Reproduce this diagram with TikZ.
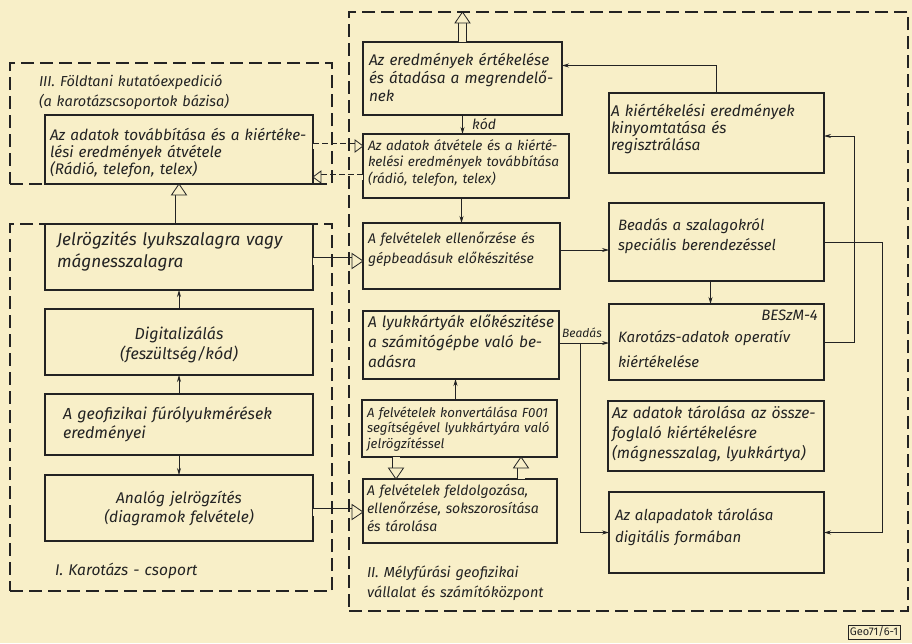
\documentclass[tikz,border=0pt]{standalone}
\usepackage{fontspec}
\setmainfont{Fira Sans}
\usetikzlibrary{arrows.meta,calc}
\definecolor{paper}{RGB}{248,239,200}
\definecolor{ink}{RGB}{35,35,35}
\newcommand\fs[2]{\fontsize{#1}{#2}\selectfont\itshape}
\tikzset{
 box/.style={draw=ink, line width=1.1pt, inner sep=0pt, outer sep=0pt, anchor=north west},
 frame/.style={draw=ink, line width=1.1pt, dash pattern=on 13pt off 6pt, inner sep=0pt, outer sep=0pt, anchor=north west},
 txt/.style={inner sep=0pt, outer sep=0pt, anchor=base west, align=left, text width=400pt, text=ink},
 ctxt/.style={inner sep=0pt, outer sep=0pt, anchor=base west, align=center, text width=268pt, text=ink},
 arr/.style={draw=ink, line width=0.8pt, -{Stealth[length=7pt,width=4pt]}},
 shaft/.style={draw=ink, line width=0.8pt, double=paper, double distance=7pt},
 dshaft/.style={draw=ink, line width=0.7pt, double=paper, double distance=5pt, dash pattern=on 6pt off 3pt},
 hhead/.style={draw=ink, line width=0.8pt, fill=paper, line join=miter},
}
\newcommand\mkbox[5]{\node[box, minimum width={(#4-#2)*1pt}, minimum height={(#5-#3)*1pt}] (#1) at (#2,#3) {};}
\newcommand\mkframe[5]{\node[frame, minimum width={(#4-#2)*1pt}, minimum height={(#5-#3)*1pt}] (#1) at (#2,#3) {};}
\newcommand\harrow[2]{%
  \draw[shaft, shorten >=10pt] (#1) -- (#2);
  \coordinate (hb) at ($(#2)!11pt!(#1)$);
  \draw[hhead] (#2) -- ($(hb)!7.5pt!90:(#2)$) -- ($(hb)!7.5pt!-90:(#2)$) -- cycle;}
\newcommand\dharrow[2]{%
  \draw[dshaft, shorten >=7pt] (#1) -- (#2);
  \coordinate (hb) at ($(#2)!8pt!(#1)$);
  \draw[hhead] (#2) -- ($(hb)!6pt!90:(#2)$) -- ($(hb)!6pt!-90:(#2)$) -- cycle;}
\begin{document}
\begin{tikzpicture}[x=1pt,y=-1pt]
\useasboundingbox (0,0) rectangle (912,643);
\fill[paper] (0,0) rectangle (912,643);

% boxes
\mkbox{A1}{45}{115}{313}{184}
\mkbox{A2}{45}{224}{313}{290}
\mkbox{A3}{45}{309}{313}{375}
\mkbox{A4}{45}{394}{313}{455}
\mkbox{A5}{45}{475}{313}{541}
\mkbox{B1}{363}{42}{562}{115}
\mkbox{B2}{363}{134}{569}{198}
\mkbox{B3}{363}{223}{560}{289}
\mkbox{B4}{363}{311}{559}{379}
\mkbox{B5}{362}{400}{557}{457}
\mkbox{B6}{363}{479}{557}{543}
\mkbox{C1}{609}{93}{824}{173}
\mkbox{C2}{609}{203}{824}{281}
\mkbox{C3}{609}{304}{824}{380}
\mkbox{C4}{608}{401}{824}{471}
\mkbox{C5}{609}{492}{824}{573}

% texts
\node[txt, font=\fs{14.5}{20}] (tIII) at (39,86) {III. Földtani kutatóexpedició\\(a karotázscsoportok bázisa)};
\node[txt, font=\fs{15.3}{17}] (tA1) at (50,140) {Az adatok továbbítása és a kiértéke-\\lési eredmények átvétele\\(Rádió, telefon, telex)};
\node[txt, font=\fs{17.2}{22}] (tA2) at (57,245) {Jelrögzités lyukszalagra vagy\\mágnesszalagra};
\node[ctxt, font=\fs{16}{20}] (tA3) at (45,339) {Digitalizálás\\(feszültség/kód)};
\node[txt, font=\fs{16}{19}] (tA4) at (63,419) {A geofizikai fúrólyukmérések\\eredményei};
\node[ctxt, font=\fs{15.5}{19}] (tA5) at (45,503) {Analóg jelrögzítés\\(diagramok felvétele)};
\node[txt, font=\fs{15.5}{19}] (tI) at (55,575) {I. Karotázs - csoport};

\node[txt, font=\fs{15.4}{18}] (tB1) at (369,65) {Az eredmények értékelése\\és átadása a megrendelő-\\nek};
\node[txt, font=\fs{13.6}{16.5}] (tB2) at (368,150) {Az adatok átvétele és a kiérté-\\kelési eredmények továbbítása\\(rádió, telefon, telex)};
\node[txt, font=\fs{14}{20}] (tB3) at (368,243) {A felvételek ellenőrzése és\\gépbeadásuk előkészitése};
\node[txt, font=\fs{15.5}{20}] (tB4) at (368,327) {A lyukkártyák előkészitése\\a számitógépbe való be-\\adásra};
\node[txt, font=\fs{13.2}{15.5}] (tB5) at (367,417) {A felvételek konvertálása F001\\segítségével lyukkártyára való\\jelrögzítéssel};
\node[txt, font=\fs{14}{18}] (tB6) at (367,495) {A felvételek feldolgozása,\\ellenőrzése, sokszorosítása\\és tárolása};
\node[txt, font=\fs{14.5}{20}] (tII) at (367,577) {II. Mélyfúrási geofizikai\\vállalat és számítóközpont};

\node[txt, font=\fs{15.5}{17}] (tC1) at (611,116) {A kiértékelési eredmények\\kinyomtatása és\\regisztrálása};
\node[txt, font=\fs{15}{20}] (tC2) at (618,230) {Beadás a szalagokról\\speciális berendezéssel};
\node[inner sep=0pt, anchor=base east, text=ink, font=\fs{15}{18}] (tC3a) at (818,320) {BESzM-4};
\node[txt, font=\fs{15}{25}] (tC3) at (618,342) {Karotázs-adatok operatív\\kiértékelése};
\node[txt, font=\fs{15.6}{20}] (tC4) at (612,418) {Az adatok tárolása az össze-\\foglaló kiértékelésre\\(mágnesszalag, lyukkártya)};
\node[txt, font=\fs{15}{22}] (tC5) at (615,520) {Az alapadatok tárolása\\digitális formában};

% connectors, left column
\draw[arr] (A4.north) -- (A3.south);
\draw[arr] (A3.north) -- (A2.south);
\draw[arr] (A4.south) -- (A5.north);
\harrow{A2.north}{A1.south}

% left to middle
\coordinate (p1) at ([yshift=-4pt]A2.east); \coordinate (q1) at (p1 -| B3.west);
\harrow{p1}{q1}
\coordinate (p2) at ([yshift=-4pt]A5.east); \coordinate (q2) at (p2 -| B6.west);
\harrow{p2}{q2}
\coordinate (p3) at ([yshift=-31pt]A1.north east); \coordinate (q3) at (p3 -| B2.west);
\dharrow{p3}{q3}
\coordinate (p4) at ([yshift=7pt]A1.south east); \coordinate (q4) at (p4 -| B2.west);
\dharrow{q4}{p4}

% middle column
\coordinate (topB) at ($(B1.north)+(0,-30)$);
\harrow{B1.north}{topB}
\draw[arr] (B1.south) -- (B1.south |- B2.north);
\node[inner sep=0pt, anchor=base west, text=ink, font=\fs{14}{16}] (kod) at (472,129) {kód};
\draw[arr] (B3.north |- B2.south) -- (B3.north);
\coordinate (p12) at ([xshift=-4pt]B5.north);
\draw[arr] (p12) -- (p12 |- B4.south);
\coordinate (p5) at ([xshift=34pt]B5.south west); \coordinate (q5) at (p5 |- B6.north);
\harrow{p5}{q5}
\coordinate (p6) at ([xshift=-36pt]B6.north east); \coordinate (q6) at (p6 |- B5.south);
\harrow{p6}{q6}

% middle to right
\coordinate (p7) at ([yshift=6pt]B3.east);
\draw[arr] (p7) -- (p7 -| C2.west);
\coordinate (p8) at ([yshift=2pt]B4.east);
\draw[arr] (p8) -- (p8 -| C3.west);
\node[inner sep=0pt, anchor=base west, text=ink, font=\fs{12}{14}] (bead) at (562,337) {Beadás};
\coordinate (br) at ($(p8)+(21,0)$);
\draw[arr] (br) |- (C5.west);

% right column
\coordinate (p9) at ([xshift=-6pt]C2.south);
\draw[arr] (p9) -- (p9 |- C3.north);
\coordinate (p10) at ([yshift=13pt]B1.east);
\draw[arr] (C1.north) |- (p10);
\coordinate (p11) at ([yshift=-3pt]C1.east);
\draw[arr] (C3.east) -- ++(30,0) |- (p11);
\draw[arr] (C2.east) -- ++(58,0) |- (C5.east);

% dashed frames
\mkframe{F3}{10}{63}{332}{184}
\mkframe{F1}{10}{224}{332}{591}
\mkframe{F2}{349}{12}{908}{611}

\node[draw=ink, line width=0.8pt, inner sep=2pt, text=ink, font=\fontsize{11}{13}\selectfont] (geo) at (874,632) {Geo71/6-1};
\end{tikzpicture}
\end{document}
